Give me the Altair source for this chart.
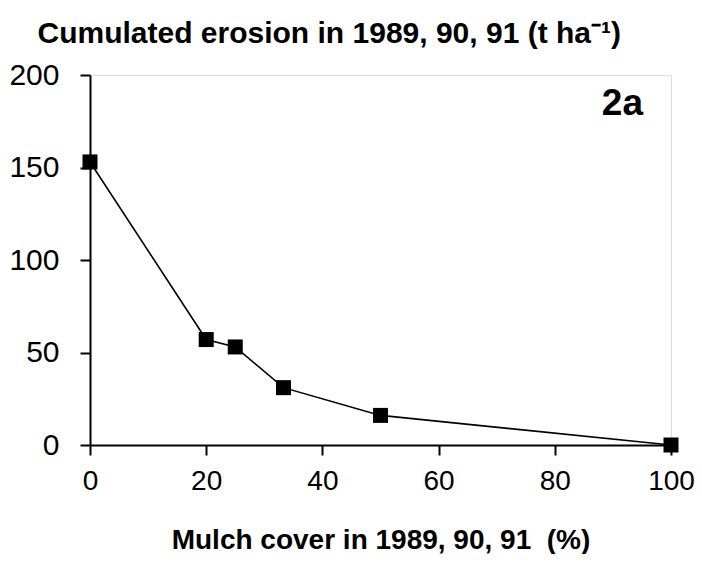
import altair as alt
import pandas as pd

mulch = [0, 20, 25, 33.3, 50, 100]
erosion = [153, 57, 53, 31, 16, 0]
x_ticks = [0, 20, 40, 60, 80, 100]
y_ticks = [0, 50, 100, 150, 200]

df = pd.DataFrame({"mulch": mulch, "erosion": erosion})

FONT = "Liberation Sans"

x = alt.X("mulch:Q",
          scale=alt.Scale(domain=[0, 100], nice=False, zero=False),
          axis=alt.Axis(values=x_ticks, title="Mulch cover in 1989, 90, 91\u00a0 (%)",
                        grid=False, domainColor="black", domainWidth=2,
                        tickColor="black", tickWidth=2, tickSize=10,
                        labelFont=FONT, labelFontSize=28, labelColor="black",
                        labelPadding=12, labelFlush=False,
                        titleFont=FONT, titleFontSize=28, titleFontWeight="bold",
                        titleColor="black", titleBaseline="middle", titleY=95))
y = alt.Y("erosion:Q",
          scale=alt.Scale(domain=[0, 200], nice=False),
          axis=alt.Axis(values=y_ticks, title="Cumulated erosion in 1989, 90, 91 (t ha⁻¹)",
                        grid=False, domainColor="black", domainWidth=2,
                        tickColor="black", tickWidth=2, tickSize=10,
                        labelFont=FONT, labelFontSize=30, labelColor="black",
                        labelPadding=21,
                        titleFont=FONT, titleFontSize=30, titleFontWeight="bold",
                        titleColor="black", titleAngle=0, titleAlign="left",
                        titleBaseline="middle", titleX=-53, titleY=-42))

base = alt.Chart(df)
line = base.mark_line(color="black", strokeWidth=1.6).encode(x=x, y=y)
pts = base.mark_point(shape="square", filled=True, color="black", size=225, opacity=1).encode(x=x, y=y)
label = alt.Chart(pd.DataFrame({"t": ["2a"]})).mark_text(
    font=FONT, fontSize=37, fontWeight="bold", color="black", align="right", baseline="middle"
).encode(text="t:N", x=alt.value(553), y=alt.value(29))

chart = (line + pts + label).properties(
    width=581, height=370,
    autosize=alt.AutoSizeParams(type="none"),
    padding={"left": 82, "top": 67, "right": 23, "bottom": 109},
).configure_view(stroke="black", strokeWidth=2).configure(background="white")

chart.save("out.html", embed_options={"renderer": "svg", "actions": False})
